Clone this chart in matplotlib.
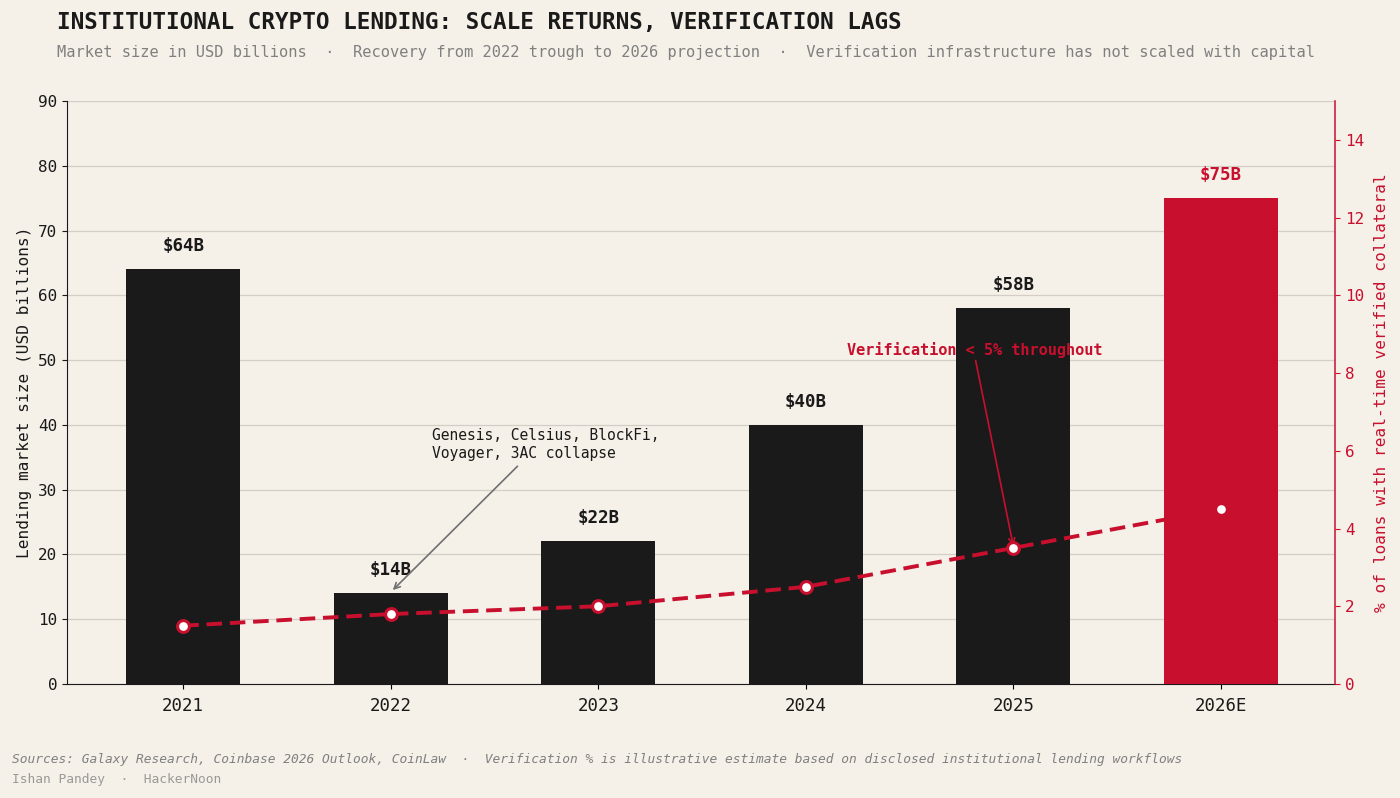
import matplotlib
matplotlib.use("Agg")
import matplotlib.pyplot as plt

years = ["2021", "2022", "2023", "2024", "2025", "2026E"]
market_size = [64, 14, 22, 40, 58, 75]
bar_labels = ["$64B", "$14B", "$22B", "$40B", "$58B", "$75B"]
verified_pct = [1.5, 1.8, 2.0, 2.5, 3.5, 4.5]

BG = "#f5f0e8"
DARK = "#1a1a1a"
RED = "#c8102e"
GRID = "#d3cec6"

plt.rcParams['font.family'] = ['DejaVu Sans Mono', 'DejaVu Sans']

fig = plt.figure(figsize=(14, 7.98), dpi=100, facecolor=BG)
ax = fig.add_axes([67/1400, 1-684/798, (1335-67)/1400, (684-101)/798])
ax.set_facecolor(BG)

x = list(range(len(years)))
colors = [DARK]*5 + [RED]
ax.bar(x, market_size, width=0.55, color=colors, zorder=2)
for i, (v, lab) in enumerate(zip(market_size, bar_labels)):
    ax.text(i, v + 2.2, lab, ha='center', va='bottom', fontsize=12.6, fontweight='bold',
            color=RED if i == 5 else DARK, zorder=5)

ax.set_ylim(0, 90)
ax.set_xlim(-0.56, 5.55)
ax.set_yticks(range(0, 91, 10))
ax.set_xticks(x)
ax.set_xticklabels(years, fontsize=12.5, color=DARK)
ax.tick_params(axis='y', labelsize=11.5, colors=DARK)
ax.tick_params(axis='x', pad=6)
ax.grid(axis='y', color=GRID, linewidth=0.9, zorder=0)
ax.set_axisbelow(True)
for s in ['top', 'right']:
    ax.spines[s].set_visible(False)
ax.spines['left'].set_color(DARK)
ax.spines['bottom'].set_color(DARK)
ax.set_ylabel("Lending market size (USD billions)", fontsize=11.6, color=DARK, labelpad=4)

ax.annotate("Genesis, Celsius, BlockFi,\nVoyager, 3AC collapse", xy=(1.01, 14.5),
            xytext=(1.2, 34.5), textcoords='data', xycoords='data',
            fontsize=10.5, color=DARK, ha='left', va='bottom', zorder=6,
            arrowprops=dict(arrowstyle='->', color='#707070', lw=1.2,
                            shrinkA=3, shrinkB=0, relpos=(0.4, 0)))

ax2 = ax.twinx()
ax2.set_ylim(0, 15)
ax2.plot(x, verified_pct, color=RED, linestyle='--', linewidth=2.8, dashes=(4, 2),
         marker='o', markersize=8.5, markerfacecolor='white', markeredgecolor=RED,
         markeredgewidth=2.2, zorder=4)
ax2.set_yticks(range(0, 15, 2))
ax2.tick_params(axis='y', colors=RED, labelsize=11.5)
for s in ['top', 'left', 'bottom']:
    ax2.spines[s].set_visible(False)
ax2.spines['right'].set_color(RED)
ax2.spines['right'].set_linewidth(1.1)
ax2.set_ylabel("% of loans with real-time verified collateral", fontsize=11.6, color=RED, labelpad=7)

# the 2026 bar drawn above the dashed line
ax3 = ax.twinx()
ax3.set_ylim(0, 90)
ax3.set_axis_off()
ax3.bar([5], [market_size[5]], width=0.55, color=RED, zorder=2)
ax3.plot([5], [verified_pct[5] * 6], marker='o', markersize=8.5, markerfacecolor='white',
         markeredgecolor=RED, markeredgewidth=2.2, linestyle='none')

ax2.annotate("Verification < 5% throughout", xy=(4.0, 3.55),
             xytext=(3.2, 8.6), fontsize=11, fontweight='bold', color=RED,
             ha='left', va='center',
             arrowprops=dict(arrowstyle='->', color=RED, lw=1.2,
                             shrinkA=0, shrinkB=0, relpos=(0.5, 0)))

fig.text(57/1400, 1-22/798, "INSTITUTIONAL CRYPTO LENDING: SCALE RETURNS, VERIFICATION LAGS",
         fontsize=16.3, fontweight='bold', color=DARK, ha='left', va='center')
fig.text(57/1400, 1-52/798,
         "Market size in USD billions  ·  Recovery from 2022 trough to 2026 projection  ·  Verification infrastructure has not scaled with capital",
         fontsize=11.05, color='#808080', ha='left', va='center')
fig.text(12/1400, 1-760/798,
         "Sources: Galaxy Research, Coinbase 2026 Outlook, CoinLaw  ·  Verification % is illustrative estimate based on disclosed institutional lending workflows",
         fontsize=9.3, style='italic', color='#808080', ha='left', va='center')
fig.text(12/1400, 1-780/798, "Ishan Pandey  ·  HackerNoon",
         fontsize=9.3, color='#999999', ha='left', va='center')

fig.savefig("out.png", dpi=100, facecolor=BG)
